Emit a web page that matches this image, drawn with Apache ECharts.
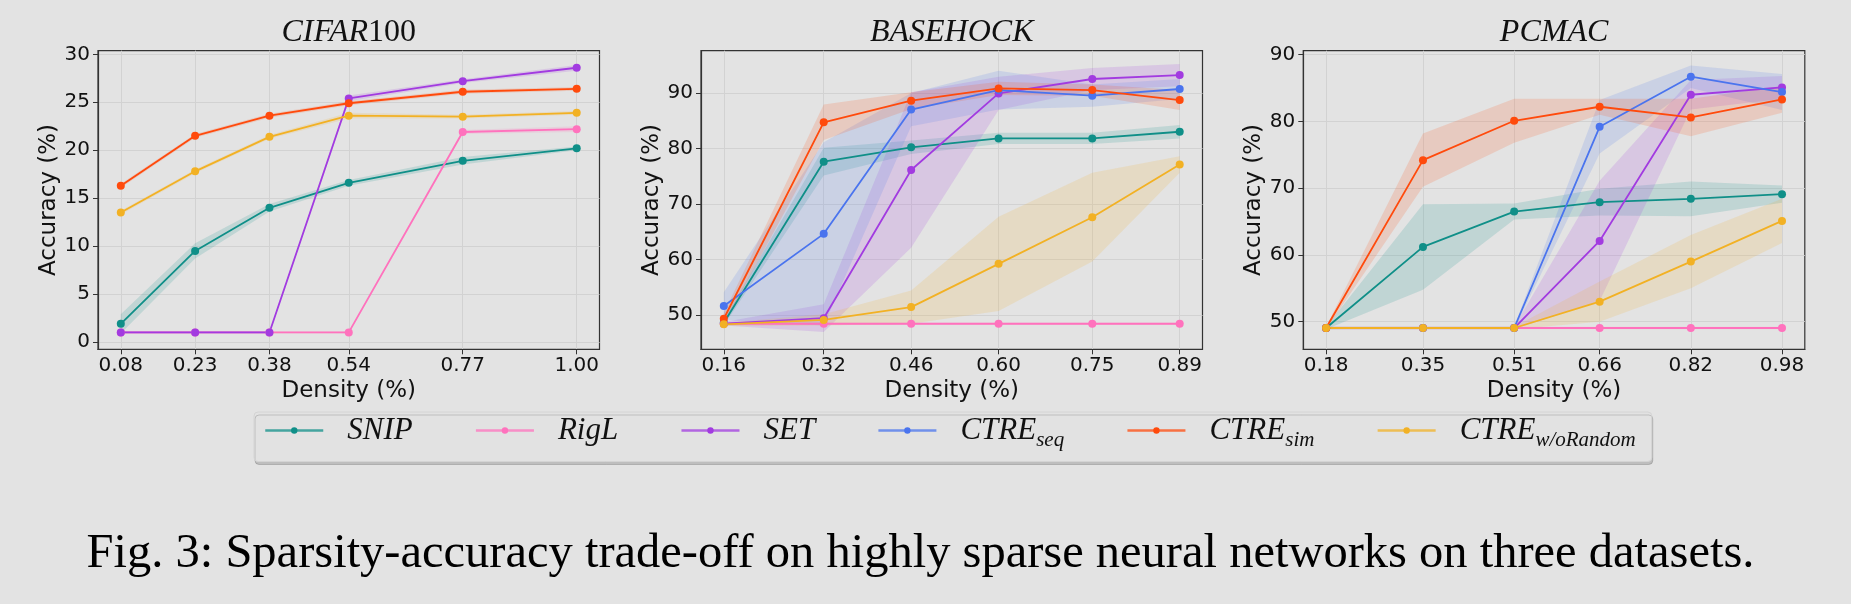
<!DOCTYPE html>
<html>
<head>
<meta charset="utf-8">
<script src="https://cdn.jsdelivr.net/npm/echarts@6/dist/echarts.min.js"></script>
<style>
html,body{margin:0;padding:0;background:#e3e3e3;}
#chart{width:1851px;height:604px;}
</style>
</head>
<body>
<div id="chart"></div>
<script>
// ---------------- DATA ----------------
const METHODS = ['SNIP', 'RigL', 'SET', 'CTRE_seq', 'CTRE_sim', 'CTRE_w/oRandom'];
const COLORS = ['#0f8f88', '#ff72bd', '#a23be0', '#4a74ee', '#ff4a0c', '#f2b124'];

// CIFAR100
const CIFAR_X = [0.08, 0.23, 0.38, 0.54, 0.77, 1.00];
const CIFAR_YTICKS = [0, 5, 10, 15, 20, 25, 30];
const CIFAR_SNIP = [1.9, 9.5, 14.0, 16.6, 18.9, 20.2];
const CIFAR_SNIP_SD = [1.0, 0.8, 0.4, 0.3, 0.4, 0.2];
const CIFAR_RIGL = [1.0, 1.0, 1.0, 1.0, 21.9, 22.2];
const CIFAR_RIGL_SD = [0.1, 0.1, 0.1, 0.1, 0.2, 0.3];
const CIFAR_SET = [1.0, 1.0, 1.0, 25.4, 27.2, 28.6];
const CIFAR_SET_SD = [0.1, 0.1, 0.1, 0.3, 0.2, 0.3];
const CIFAR_SIM = [16.3, 21.5, 23.6, 24.9, 26.1, 26.4];
const CIFAR_SIM_SD = [0.2, 0.2, 0.2, 0.2, 0.2, 0.2];
const CIFAR_WO = [13.5, 17.8, 21.4, 23.6, 23.5, 23.9];
const CIFAR_WO_SD = [0.2, 0.2, 0.2, 0.3, 0.2, 0.2];

// BASEHOCK
const BASE_X = [0.16, 0.32, 0.46, 0.60, 0.75, 0.89];
const BASE_YTICKS = [50, 60, 70, 80, 90];
const BASE_SNIP = [48.6, 77.6, 80.2, 81.8, 81.8, 83.0];
const BASE_SNIP_SD = [0.5, 2.5, 1.2, 1.0, 1.0, 1.2];
const BASE_RIGL = [48.4, 48.4, 48.4, 48.4, 48.4, 48.4];
const BASE_RIGL_SD = [0.2, 0.2, 0.2, 0.2, 0.2, 0.2];
const BASE_SET = [48.4, 49.4, 76.1, 89.9, 92.5, 93.2];
const BASE_SET_SD = [0.3, 2.5, 14.0, 3.0, 2.0, 2.0];
const BASE_SEQ = [51.6, 64.6, 87.0, 90.5, 89.5, 90.7];
const BASE_SEQ_SD = [2.5, 16.5, 3.0, 3.5, 2.0, 1.8];
const BASE_SIM = [49.3, 84.7, 88.6, 90.8, 90.5, 88.7];
const BASE_SIM_SD = [1.0, 3.2, 1.5, 1.2, 1.0, 1.8];
const BASE_WO = [48.3, 49.1, 51.4, 59.2, 67.6, 77.1];
const BASE_WO_SD = [0.3, 1.0, 3.0, 8.5, 8.0, 1.5];

// PCMAC
const PC_X = [0.18, 0.35, 0.51, 0.66, 0.82, 0.98];
const PC_YTICKS = [50, 60, 70, 80, 90];
const PC_SNIP = [49.05, 61.2, 66.5, 67.9, 68.4, 69.1];
const PC_SNIP_SD = [0.2, 6.4, 1.2, 2.0, 2.6, 1.3];
const PC_RIGL = [49.05, 49.05, 49.05, 49.05, 49.05, 49.05];
const PC_RIGL_SD = [0.2, 0.2, 0.2, 0.2, 0.2, 0.2];
const PC_SET = [49.05, 49.05, 49.05, 62.1, 84.0, 85.1];
const PC_SET_SD = [0.2, 0.2, 0.2, 9.0, 2.2, 1.7];
const PC_SEQ = [49.05, 49.05, 49.05, 79.2, 86.7, 84.4];
const PC_SEQ_SD = [0.2, 0.2, 0.2, 4.0, 1.7, 2.7];
const PC_SIM = [49.05, 74.2, 80.1, 82.2, 80.6, 83.3];
const PC_SIM_SD = [0.2, 4.0, 3.3, 1.2, 2.8, 2.0];
const PC_WO = [49.05, 49.05, 49.05, 53.0, 59.0, 65.1];
const PC_WO_SD = [0.2, 0.2, 0.2, 3.0, 4.0, 3.3];

const TITLES = ['CIFAR100', 'BASEHOCK', 'PCMAC'];
const CAPTION = 'Fig. 3: Sparsity-accuracy trade-off on highly sparse neural networks on three datasets.';

// ---------------- BUILD ----------------
const panels = [
  { x: CIFAR_X, yticks: CIFAR_YTICKS, ymin: -0.76, ymax: 30.38,
    lines: [['SNIP', CIFAR_SNIP, CIFAR_SNIP_SD], ['RigL', CIFAR_RIGL, CIFAR_RIGL_SD], ['SET', CIFAR_SET, CIFAR_SET_SD],
            ['CTRE_sim', CIFAR_SIM, CIFAR_SIM_SD], ['CTRE_w/oRandom', CIFAR_WO, CIFAR_WO_SD]] },
  { x: BASE_X, yticks: BASE_YTICKS, ymin: 43.8, ymax: 97.6,
    lines: [['SNIP', BASE_SNIP, BASE_SNIP_SD], ['RigL', BASE_RIGL, BASE_RIGL_SD], ['SET', BASE_SET, BASE_SET_SD],
            ['CTRE_seq', BASE_SEQ, BASE_SEQ_SD], ['CTRE_sim', BASE_SIM, BASE_SIM_SD], ['CTRE_w/oRandom', BASE_WO, BASE_WO_SD]] },
  { x: PC_X, yticks: PC_YTICKS, ymin: 45.86, ymax: 90.6,
    lines: [['SNIP', PC_SNIP, PC_SNIP_SD], ['RigL', PC_RIGL, PC_RIGL_SD], ['SET', PC_SET, PC_SET_SD],
            ['CTRE_seq', PC_SEQ, PC_SEQ_SD], ['CTRE_sim', PC_SIM, PC_SIM_SD], ['CTRE_w/oRandom', PC_WO, PC_WO_SD]] }
];

const GRID_LEFT = [98, 701, 1303.3];
const GRID_W = 501.5;
const GRID_TOP = 50.7;
const GRID_H = 298.6;

const grids = [], xAxes = [], yAxes = [], titles = [], lineSeries = [], bandSeries = [];
const tickFont = { fontFamily: 'DejaVu Sans', fontSize: 20, color: '#111' };

panels.forEach((p, k) => {
  grids.push({ left: GRID_LEFT[k], top: GRID_TOP, width: GRID_W, height: GRID_H,
    show: true, borderColor: '#333', borderWidth: 1.2, backgroundColor: 'transparent' });
  const span = p.x[p.x.length - 1] - p.x[0];
  xAxes.push({
    type: 'value', gridIndex: k, min: p.x[0] - 0.05 * span, max: p.x[p.x.length - 1] + 0.05 * span,
    name: 'Density (%)', nameLocation: 'middle', nameGap: 30,
    nameTextStyle: { fontFamily: 'DejaVu Sans', fontSize: 23, color: '#111' },
    axisLine: { show: true, onZero: false, lineStyle: { color: '#333', width: 1.2 } },
    axisTick: { show: true, length: 5, customValues: p.x, lineStyle: { color: '#333' } },
    axisLabel: Object.assign({ customValues: p.x, margin: 6, formatter: v => v.toFixed(2) }, tickFont),
    splitLine: { show: true, lineStyle: { color: '#d2d2d2', width: 1 } }
  });
  yAxes.push({
    type: 'value', gridIndex: k, min: p.ymin, max: p.ymax,
    name: 'Accuracy (%)', nameLocation: 'middle', nameGap: 37, nameRotate: 90,
    nameTextStyle: { fontFamily: 'DejaVu Sans', fontSize: 23, color: '#111' },
    axisLine: { show: true, onZero: false, lineStyle: { color: '#333', width: 1.2 } },
    axisTick: { show: true, length: 5, customValues: p.yticks, lineStyle: { color: '#333' } },
    axisLabel: Object.assign({ customValues: p.yticks, margin: 8 }, tickFont),
    splitLine: { show: true, lineStyle: { color: '#d2d2d2', width: 1 } }
  });
  const t = TITLES[k];
  const m = t.match(/^([A-Z]+)(\d*)$/);
  titles.push({
    text: m[2] ? '{i|' + m[1] + '}{n|' + m[2] + '}' : '{i|' + t + '}',
    left: GRID_LEFT[k] + GRID_W / 2, top: 15, textAlign: 'center', padding: 0,
    textStyle: { fontWeight: 'normal', rich: {
      i: { fontFamily: 'Liberation Serif', fontStyle: 'italic', fontWeight: 'normal', fontSize: 32, lineHeight: 36, color: '#111' },
      n: { fontFamily: 'Liberation Serif', fontStyle: 'normal', fontWeight: 'normal', fontSize: 32, lineHeight: 36, color: '#111' }
    } }
  });
  p.lines.forEach(([name, mean, sd]) => {
    const c = COLORS[METHODS.indexOf(name)];
    lineSeries.push({
      type: 'line', name, xAxisIndex: k, yAxisIndex: k, z: 3,
      data: p.x.map((x, i) => [x, mean[i]]),
      symbol: 'circle', symbolSize: 8, showSymbol: true,
      lineStyle: { width: 1.8, color: c }, itemStyle: { color: c },
      emphasis: { disabled: true }
    });
    const band = p.x.map((x, i) => [x, mean[i] - sd[i], mean[i] + sd[i]]);
    bandSeries.push({
      type: 'custom', name, xAxisIndex: k, yAxisIndex: k, z: 1, silent: true,
      data: band, encode: { x: 0, y: [1, 2] }, clip: true,
      renderItem: (params, api) => {
        if (params.dataIndex !== 0) return null;
        const up = band.map(d => api.coord([d[0], d[2]]));
        const lo = band.map(d => api.coord([d[0], d[1]])).reverse();
        return { type: 'polygon', shape: { points: up.concat(lo) },
          style: { fill: c, opacity: 0.16 } };
      }
    });
  });
});

function legendLabel(name) {
  const parts = name.split('_');
  if (parts.length === 1) return '{m|' + name + '}';
  return '{m|' + parts[0] + '}{s|' + parts[1] + '}';
}

const legendFont = { fontFamily: 'Liberation Serif', fontStyle: 'italic', fontWeight: 'normal', color: '#111' };

const option = {
  backgroundColor: '#e3e3e3',
  animation: false,
  title: titles,
  grid: grids,
  xAxis: xAxes,
  yAxis: yAxes,
  legend: {
    data: METHODS, left: 254, top: 412, orient: 'horizontal',
    itemWidth: 58, itemHeight: 8, itemGap: 62,
    padding: [3, 16, 11, 10],
    backgroundColor: '#e2e2e2', borderColor: '#d4d4d4', borderWidth: 1, borderRadius: 4,
    shadowColor: 'rgba(0,0,0,0.16)', shadowOffsetX: 1, shadowOffsetY: 3, shadowBlur: 0,
    lineStyle: { opacity: 0.75, width: 2.5 },
    formatter: legendLabel,
    textStyle: Object.assign({ fontSize: 31, padding: [0, 0, 0, 19], rich: {
      m: Object.assign({ fontSize: 31, lineHeight: 40 }, legendFont),
      s: Object.assign({ fontSize: 21, lineHeight: 24, verticalAlign: 'bottom' }, legendFont)
    } }, legendFont)
  },
  graphic: [{
    type: 'text', x: 920.5, y: 530,
    style: { text: CAPTION, fontFamily: 'Liberation Serif', fontSize: 48.5, fill: '#000', align: 'center', verticalAlign: 'top' }
  }],
  series: lineSeries.concat(bandSeries)
};

const chart = echarts.init(document.getElementById('chart'), null, { renderer: 'canvas' });
chart.setOption(option);
</script>
</body>
</html>
